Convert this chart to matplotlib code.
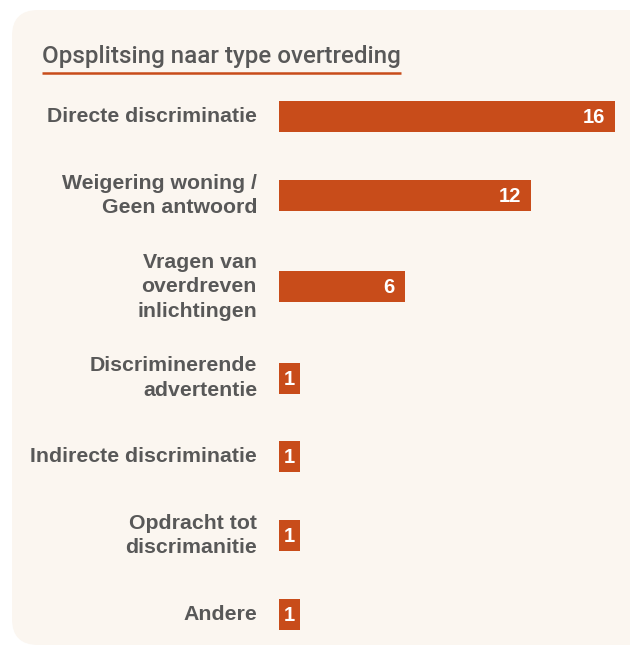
import matplotlib
matplotlib.use("Agg")
import matplotlib.pyplot as plt
from matplotlib.patches import FancyBboxPatch
import matplotlib.transforms as mtransforms

categories = [
    "Directe discriminatie",
    "Weigering woning /\nGeen antwoord",
    "Vragen van\noverdreven\ninlichtingen",
    "Discriminerende\nadvertentie",
    "Indirecte discriminatie",
    "Opdracht tot\ndiscrimanitie",
    "Andere",
]
values = [16, 12, 6, 1, 1, 1, 1]
title = "Opsplitsing naar type overtreding"

BAR = "#C84C1A"
TEXT = "#585858"
PANEL = "#FBF6F0"

W, H = 630, 647
fig = plt.figure(figsize=(W / 100, H / 100), dpi=100)
fig.patch.set_facecolor("white")

# background panel in pixel coordinates
bg = fig.add_axes([0, 0, 1, 1])
bg.set_xlim(0, W)
bg.set_ylim(H, 0)
bg.axis("off")
bg.add_patch(FancyBboxPatch((12, 10), 660, 635,
                            boxstyle="round,pad=0,rounding_size=26",
                            fc=PANEL, ec="none"))
bg.text(42, 63, title, fontsize=17.4, family="Roboto", weight="medium",
        color=TEXT, ha="left", va="baseline")
bg.plot([42, 401], [72.5, 72.5], color=BAR, lw=1.8, solid_capstyle="butt")

# row layout derived from label line counts
first_center = 116.5
base_gap, per_line = 59.6, 12.75
centers = [first_center]
lines = [c.count("\n") + 1 for c in categories]
for i in range(1, len(categories)):
    centers.append(centers[-1] + base_gap + per_line * (lines[i - 1] + lines[i]) / 2)

ax = fig.add_axes([279 / W, 0, 336 / W, 1])
ax.set_xlim(0, max(values))
ax.set_ylim(H, 0)
ax.axis("off")
ax.barh(centers, values, height=31, color=BAR)

lab_tr = ax.transData + mtransforms.ScaledTranslation(-22 / 100, 0, fig.dpi_scale_trans)
for y, lab, v in zip(centers, categories, values):
    ax.text(0, y, lab, transform=lab_tr, ha="right", va="center",
            multialignment="right", fontsize=15.35, family="Liberation Sans",
            weight="bold", color=TEXT, linespacing=1.36)
    px = v * 336 / max(values)
    if px > 30:
        tr = ax.transData + mtransforms.ScaledTranslation(-10 / 100, 0, fig.dpi_scale_trans)
        ax.text(v, y + 1, str(v), transform=tr, ha="right", va="center",
                fontsize=14.5, family="Liberation Sans", weight="bold", color="white")
    else:
        ax.text(v / 2, y + 1, str(v), ha="center", va="center",
                fontsize=14.5, family="Liberation Sans", weight="bold", color="white")

fig.savefig("out.png", dpi=100, facecolor="white")
